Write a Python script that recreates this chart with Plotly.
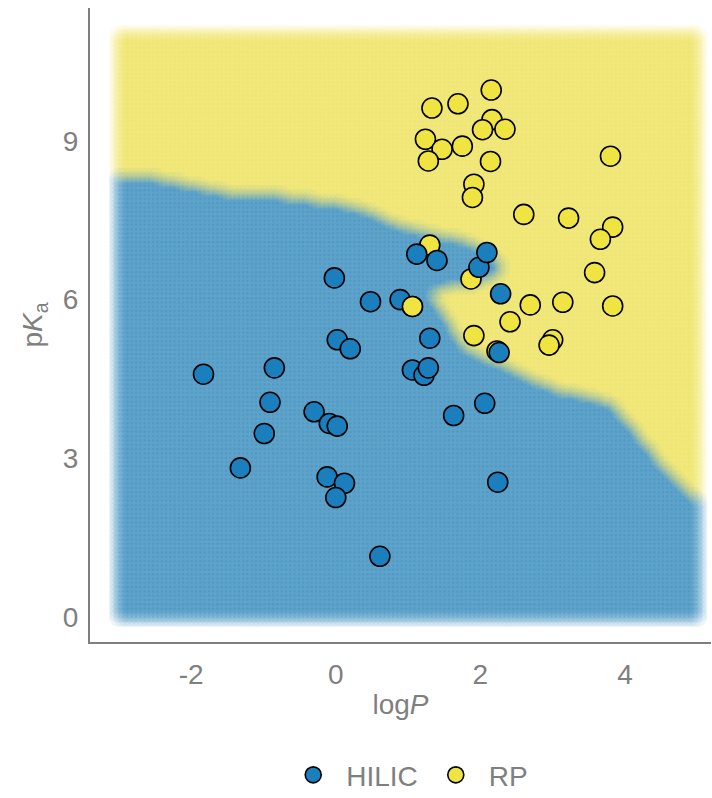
import numpy as np
import plotly.graph_objects as go

# ---- data ----
hilic_logp = [-1.83, -1.32, -0.99, -0.91, -0.85, -0.30, -0.12, -0.09, 0.02, 0.12,
              0.00, -0.02, 0.02, 0.20, 0.48, 0.61, 0.89, 1.06, 1.22, 1.28,
              1.30, 1.12, 1.40, 1.63, 1.98, 2.09, 2.06, 2.28, 2.26, 2.24]
hilic_pka = [4.59, 2.82, 3.47, 4.06, 4.71, 3.88, 2.65, 3.66, 3.61, 2.53,
             2.26, 6.41, 5.24, 5.07, 5.96, 1.15, 6.00, 4.67, 4.57, 4.71,
             5.27, 6.86, 6.74, 3.81, 6.61, 6.89, 4.04, 6.11, 5.00, 2.55]

rp_logp = [2.15, 1.69, 1.33, 2.16, 2.03, 2.34, 1.24, 1.47, 1.75, 1.28,
           2.14, 3.80, 1.91, 1.89, 2.60, 3.22, 3.83, 3.66, 1.30, 3.58,
           1.87, 1.06, 2.69, 3.14, 3.83, 2.41, 1.91, 3.00, 2.95, 2.23]
rp_pka = [9.96, 9.70, 9.62, 9.40, 9.21, 9.22, 9.03, 8.84, 8.90, 8.62,
          8.61, 8.71, 8.18, 7.93, 7.61, 7.54, 7.37, 7.14, 7.03, 6.51,
          6.39, 5.87, 5.90, 5.95, 5.88, 5.58, 5.32, 5.24, 5.14, 5.03]

# RP points that sit on top of the HILIC points in the reference (indices into rp_*)
rp_on_top = [21]

# HILIC decision region (polygon)
region_logp = [-3.3, -3.01, -2.47, -2.01, -1.56, -1.09, -0.63, -0.17, 0.06, 0.38,
               0.85, 1.31, 1.76, 2.10, 2.32, 2.28, 2.00, 1.72, 1.45, 1.33,
               1.45, 1.58, 1.65, 1.79, 2.10, 2.32, 2.69, 3.15, 3.62, 3.84,
               4.07, 4.53, 5.00, 5.3, 5.3, -3.3]
region_pka = [8.42, 8.39, 8.32, 8.20, 8.07, 8.02, 7.98, 7.88, 7.83, 7.73,
              7.45, 7.28, 7.16, 6.94, 6.71, 6.47, 6.28, 6.22, 6.18, 6.11,
              5.90, 5.61, 5.43, 5.14, 4.91, 4.80, 4.54, 4.29, 4.16, 4.05,
              3.67, 2.91, 2.21, 1.75, -1.0, -1.0]

grid_logp_range = (-3, 5)
grid_pka_range = (0, 11)
grid_n = 136

BLUE = "#1a7fbc"
YELLOW = "#f0e442"
GREY = "#7f7f7f"


def inside(px, py, vx, vy):
    vx = np.asarray(vx, float)
    vy = np.asarray(vy, float)
    res = np.zeros(px.shape, bool)
    j = len(vx) - 1
    for i in range(len(vx)):
        xi, yi, xj, yj = vx[i], vy[i], vx[j], vy[j]
        if yi != yj:
            cond = ((yi > py) != (yj > py)) & (px < (xj - xi) * (py - yi) / (yj - yi) + xi)
            res ^= cond
        j = i
    return res


gx = np.linspace(*grid_logp_range, grid_n)
gy = np.linspace(*grid_pka_range, grid_n)
GX, GY = np.meshgrid(gx, gy)
GX = GX.ravel()
GY = GY.ravel()
is_hilic = inside(GX, GY, region_logp, region_pka)

fig = go.Figure()

for mask, col in [(is_hilic, BLUE), (~is_hilic, YELLOW)]:
    fig.add_trace(go.Scatter(
        x=GX[mask], y=GY[mask], mode="markers",
        marker=dict(size=20, color=col, opacity=0.07, line=dict(width=0)),
        showlegend=False, hoverinfo="skip", cliponaxis=False,
    ))

rp_marker = dict(size=20, color=YELLOW, line=dict(color="black", width=1.6))
hilic_marker = dict(size=20, color=BLUE, line=dict(color="black", width=1.6))

fig.add_trace(go.Scatter(
    x=rp_logp, y=rp_pka, mode="markers", name="RP",
    marker=rp_marker, legendrank=2, cliponaxis=False,
))
fig.add_trace(go.Scatter(
    x=hilic_logp, y=hilic_pka, mode="markers", name="HILIC",
    marker=hilic_marker, legendrank=1, cliponaxis=False,
))
fig.add_trace(go.Scatter(
    x=[rp_logp[i] for i in rp_on_top], y=[rp_pka[i] for i in rp_on_top],
    mode="markers", name="RP", marker=rp_marker, showlegend=False, cliponaxis=False,
))

font = dict(family="Liberation Sans, Arial, sans-serif", size=28, color=GREY)

fig.update_layout(
    width=712, height=798,
    margin=dict(l=90, r=1, t=8, b=156, autoexpand=False),
    plot_bgcolor="white", paper_bgcolor="white",
    font=font,
    showlegend=True,
    legend=dict(orientation="h", x=0.51, xanchor="center", y=-0.21, yanchor="middle",
                font=font, itemwidth=56, traceorder="normal"),
    xaxis=dict(
        range=[-3.4, 5.19], tickvals=[-2, 0, 2, 4], ticktext=["-2", "0", "2", "4"],
        showgrid=False, zeroline=False, showline=True, linecolor=GREY, linewidth=2,
        ticks="", ticklabelstandoff=6, tickfont=font, automargin=False,
        title=dict(text="log<i>P</i>", font=font, standoff=6),
    ),
    yaxis=dict(
        range=[-0.47, 11.51], tickvals=[0, 3, 6, 9],
        showgrid=False, zeroline=False, showline=True, linecolor=GREY, linewidth=2,
        ticks="", ticklabelstandoff=4, tickfont=font, automargin=False,
        title=dict(text="p<i>K</i><sub>a</sub>", font=font, standoff=12),
    ),
)

fig.write_html("out.html")
